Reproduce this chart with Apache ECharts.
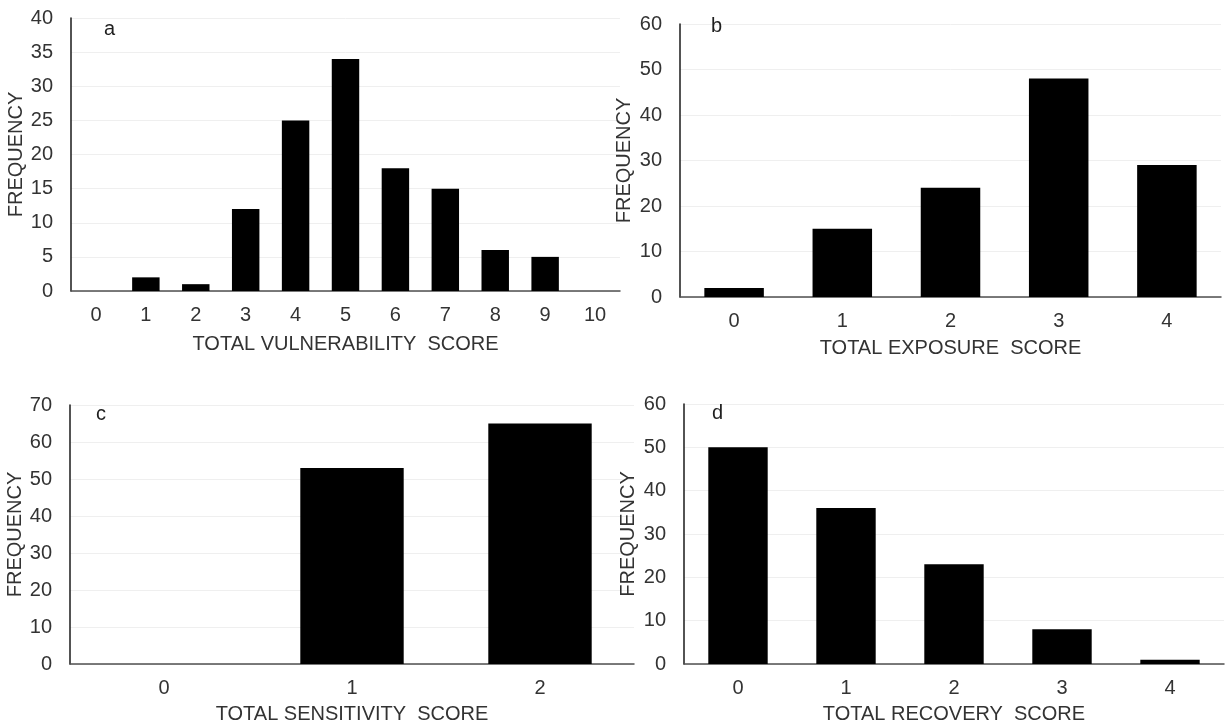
<!DOCTYPE html>
<html>
<head>
<meta charset="utf-8">
<script src="https://cdn.jsdelivr.net/npm/echarts@6/dist/echarts.min.js"></script>
<style>html,body{margin:0;padding:0;background:#fff;}#c{width:1225px;height:725px;}</style>
</head>
<body>
<div id="c"></div>
<script>
// Data
const catsA = ['0','1','2','3','4','5','6','7','8','9','10'];
const valsA = [0, 2, 1, 12, 25, 34, 18, 15, 6, 5, 0];
const catsB = ['0','1','2','3','4'];
const valsB = [2, 15, 24, 48, 29];
const catsC = ['0','1','2'];
const valsC = [0, 53, 65];
const catsD = ['0','1','2','3','4'];
const valsD = [50, 36, 23, 8, 1];
const yMaxes = [40, 60, 70, 60];
const yIntervals = [5, 10, 10, 10];
const xNames = ['TOTAL VULNERABILITY  SCORE', 'TOTAL EXPOSURE  SCORE', 'TOTAL SENSITIVITY  SCORE', 'TOTAL RECOVERY  SCORE'];
const yName = 'FREQUENCY';
const panelLetters = ['a', 'b', 'c', 'd'];

const FONT = '"Liberation Sans", Arial, sans-serif';
const FS = 20;
const grids = [
  {left: 71, top: 18, width: 549, height: 273},
  {left: 680, top: 24, width: 541, height: 273},
  {left: 70, top: 405, width: 564, height: 262},
  {left: 684, top: 404, width: 540, height: 263}
];
const letterPos = [[99, 14], [706, 11], [91, 399], [707, 398]];
const xNameGap = [43, 41, 40, 40];
const yNameGap = [45, 46, 43, 46];
const allCats = [catsA, catsB, catsC, catsD];
const allVals = [valsA, valsB, valsC, valsD];

const option = {
  animation: false,
  backgroundColor: '#ffffff',
  textStyle: {fontFamily: FONT},
  title: panelLetters.map((t, i) => ({
    text: t, left: letterPos[i][0], top: letterPos[i][1],
    textStyle: {fontFamily: FONT, fontSize: FS, fontWeight: 'normal', color: '#1f1f1f'}
  })),
  grid: grids.map(g => Object.assign({containLabel: false}, g)),
  xAxis: allCats.map((c, i) => ({
    type: 'category', gridIndex: i, data: c,
    name: xNames[i], nameLocation: 'middle', nameGap: xNameGap[i],
    nameTextStyle: {fontFamily: FONT, fontSize: FS, color: '#333'},
    axisLine: {lineStyle: {color: '#505050', width: 1.5}},
    axisTick: {show: false},
    axisLabel: {fontFamily: FONT, fontSize: FS, color: '#333', margin: 14},
    splitLine: {show: false}
  })),
  yAxis: allCats.map((c, i) => ({
    type: 'value', gridIndex: i, min: 0, max: yMaxes[i], interval: yIntervals[i],
    name: yName, nameLocation: 'middle', nameGap: yNameGap[i],
    nameTextStyle: {fontFamily: FONT, fontSize: FS, color: '#333'},
    axisLine: {show: true, lineStyle: {color: '#1a1a1a', width: 1.5}},
    axisTick: {show: false},
    axisLabel: {fontFamily: FONT, fontSize: FS, color: '#333', margin: 18},
    splitLine: {show: true, lineStyle: {color: '#efefef', width: 1}}
  })),
  series: allVals.map((v, i) => ({
    type: 'bar', xAxisIndex: i, yAxisIndex: i, data: v,
    barWidth: '55%',
    itemStyle: {color: '#000000'}
  }))
};
const chart = echarts.init(document.getElementById('c'), null, {renderer: 'canvas'});
chart.setOption(option);
</script>
</body>
</html>
